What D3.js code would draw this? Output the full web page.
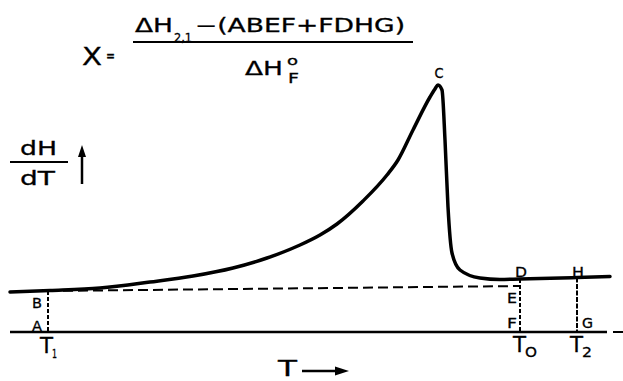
<!DOCTYPE html>
<html>
<head>
<meta charset="utf-8">
<script src="https://cdn.jsdelivr.net/npm/d3@7"></script>
<style>
html,body{margin:0;padding:0;background:#fff;}
svg{display:block;}
text{font-family:"DejaVu Sans","Liberation Sans",sans-serif;fill:#000;stroke:#000;stroke-width:0.3;}
</style>
</head>
<body>
<svg id="chart" width="623" height="381"></svg>
<script>
// Temperature (arbitrary units) and dH/dT (arbitrary units)
const temps = [0, 40, 90, 140, 183, 223, 257, 290, 310, 327, 353, 377, 388, 403, 420, 425, 428, 432, 435, 438, 442, 450, 470, 490, 510, 530, 567, 600];
const dHdT  = [40, 41.5, 44, 50, 56, 64, 74, 87, 97, 108, 131, 157, 172, 202, 235, 243, 247, 242, 192, 125, 79, 62, 54, 52.5, 53, 53.5, 54.5, 55.5];
// Extrapolated baseline B -> E (dashed)
const baseT = [38, 510];
const baseV = [41, 46];
// Marker temperatures
const markerNames = ["T1", "T0", "T2"];
const markerT = [38, 510, 567];
const markerTop = [41, 53, 54.5];
const axisEnd = 597;     // end of solid zero line
const axisDashEnd = 613; // end of dashed continuation

const svg = d3.select("#chart");
const x = d3.scaleLinear().domain([0, 600]).range([10, 610]);
const y = d3.scaleLinear().domain([0, 250]).range([332, 82]);

// zero line
svg.append("line").attr("x1", x(0)).attr("x2", x(axisEnd)).attr("y1", y(0)).attr("y2", y(0))
  .attr("stroke", "#000").attr("stroke-width", 2.5);
svg.append("line").attr("x1", x(axisEnd + 6)).attr("x2", x(axisDashEnd)).attr("y1", y(0)).attr("y2", y(0))
  .attr("stroke", "#000").attr("stroke-width", 2);

// dashed extrapolated baseline
svg.append("line").attr("x1", x(baseT[0])).attr("x2", x(baseT[1]))
  .attr("y1", y(baseV[0])).attr("y2", y(baseV[1]))
  .attr("stroke", "#000").attr("stroke-width", 2).attr("stroke-dasharray", "10,5");

// vertical dashed lines
markerT.forEach((t, i) => {
  svg.append("line").attr("x1", x(t)).attr("x2", x(t)).attr("y1", y(markerTop[i])).attr("y2", y(0))
    .attr("stroke", "#000").attr("stroke-width", 2).attr("stroke-dasharray", i === 2 ? "5,1.5" : "4,2");
});

// curve
const pts = temps.map((t, i) => [t, dHdT[i]]);
svg.append("path").datum(pts)
  .attr("d", d3.line().x(d => x(d[0])).y(d => y(d[1])).curve(d3.curveMonotoneX))
  .attr("fill", "none").attr("stroke", "#000").attr("stroke-width", 3.5)
  .attr("stroke-linejoin", "round").attr("stroke-linecap", "round");

function label(txt, px, py, size, len, anchor) {
  const t = svg.append("text").attr("x", px).attr("y", py).attr("font-size", size)
    .attr("text-anchor", anchor || "start").text(txt);
  if (len) t.attr("textLength", len).attr("lengthAdjust", "spacingAndGlyphs");
  return t;
}

// point labels
const xT1 = x(markerT[0]), xT0 = x(markerT[1]), xT2 = x(markerT[2]);
label("B", xT1 - 6, y(baseV[0]) + 17, 14, 10, "end");
label("A", xT1 - 6, y(0) - 1, 14, 10, "end");
label("E", xT0 - 3, y(baseV[1]) + 17, 14, 10, "end");
label("F", xT0 - 3, y(0) - 4, 14, 10, "end");
label("D", xT0 + 1, y(markerTop[1]) - 2, 14, 12, "middle");
label("H", xT2 + 1, y(markerTop[2]) - 1, 14, 12, "middle");
label("G", xT2 + 5, y(0) - 4, 14, 11, "start");
const peakI = dHdT.indexOf(d3.max(dHdT));
label("C", x(temps[peakI]) + 1, y(dHdT[peakI]) - 7, 14, 9, "middle");

// temperature labels
label("T", xT1 - 8, y(0) + 21, 21, 13);
label("1", xT1 + 4, y(0) + 26, 12, 5);
label("T", xT0 - 7, y(0) + 20, 21, 13);
label("O", xT0 + 5, y(0) + 25, 14, 12);
label("T", xT2 - 7, y(0) + 20, 21, 13);
label("2", xT2 + 5, y(0) + 25, 14, 10);

// y-axis label dH/dT with arrow
label("dH", 20, 155, 20, 37);
svg.append("line").attr("x1", 10).attr("x2", 68).attr("y1", 162).attr("y2", 162)
  .attr("stroke", "#000").attr("stroke-width", 2);
label("dT", 20, 185, 20, 35);
svg.append("line").attr("x1", 82).attr("x2", 82).attr("y1", 184).attr("y2", 152)
  .attr("stroke", "#000").attr("stroke-width", 2.5);
svg.append("path").attr("d", "M82,145 L78,157 L86,157 Z").attr("fill", "#000");

// x-axis label T ->
label("T", 278, 376, 22, 19);
svg.append("line").attr("x1", 302).attr("x2", 338).attr("y1", 371).attr("y2", 371)
  .attr("stroke", "#000").attr("stroke-width", 2.5);
svg.append("path").attr("d", "M349,371 L335,366.5 L335,375.5 Z").attr("fill", "#000");

// formula
label("X", 82, 65, 24, 20);
label("=", 106, 61, 16, 9);
label("ΔH", 135, 32, 19, 38);
label("2,1", 174, 42, 12, 18);
label("−(ABEF+FDHG)", 195, 32, 19, 210);
svg.append("line").attr("x1", 133).attr("x2", 413).attr("y1", 42).attr("y2", 42)
  .attr("stroke", "#000").attr("stroke-width", 2);
label("ΔH", 245, 75, 20, 38);
label("o", 287, 65, 12, 11);
label("F", 288, 83, 14, 11);
</script>
</body>
</html>
